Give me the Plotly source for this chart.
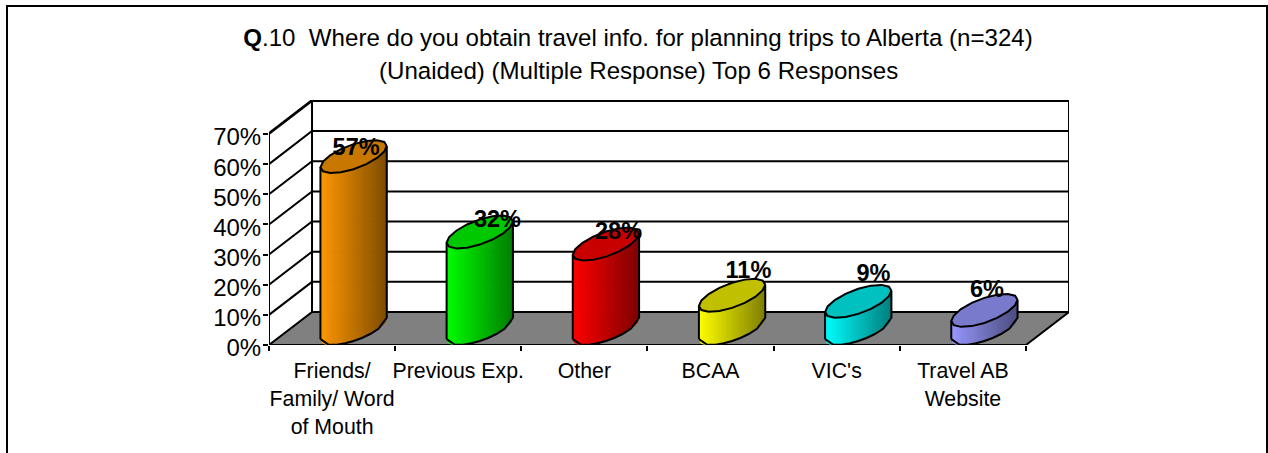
import numpy as np
import plotly.graph_objects as go

categories = ["Friends/<br>Family/ Word<br>of Mouth", "Previous Exp.", "Other", "BCAA", "VIC's", "Travel AB<br>Website"]
values = [57, 32, 28, 11, 9, 6]
value_labels = ["57%", "32%", "28%", "11%", "9%", "6%"]
y_ticks = [0, 10, 20, 30, 40, 50, 60, 70]
y_tick_labels = ["0%", "10%", "20%", "30%", "40%", "50%", "60%", "70%"]
bright = [(255, 153, 0), (0, 255, 0), (255, 0, 0), (255, 255, 0), (0, 255, 255), (153, 153, 255)]
dark = [(128, 77, 0), (0, 128, 0), (128, 0, 0), (128, 128, 0), (0, 128, 128), (77, 77, 128)]
top_col = [(200, 120, 0), (0, 200, 0), (200, 0, 0), (192, 192, 0), (0, 192, 192), (122, 122, 204)]
# data-label nudges relative to bar top centre (axis units)
label_dx = [0.02, 0.14, 0.10, 0.13, 0.12, 0.02]
label_dy = [2.5, 3.5, 3.5, 7.6, 8.6, 6.4]

DX, DY = 0.341, 10.95      # oblique depth offset, in axis units
YTOP = 81.26               # top edge of the back wall
HALF_W = 0.2
N_CAT = len(categories)
LW = 2
fig = go.Figure()


def line(xs, ys, w=LW):
    fig.add_trace(go.Scatter(x=xs, y=ys, mode="lines", line=dict(color="black", width=w),
                             hoverinfo="skip", showlegend=False, cliponaxis=False))


def poly(xs, ys, col, lw=0):
    fig.add_trace(go.Scatter(x=xs, y=ys, mode="lines", fill="toself", fillcolor=col,
                             line=dict(color=col, width=lw), hoverinfo="skip",
                             showlegend=False, cliponaxis=False))


# floor
poly([0, N_CAT, N_CAT + DX, DX, 0], [0, 0, DY, DY, 0], "rgb(128,128,128)")
# walls + gridlines
gx, gy = [], []
for t in y_ticks[1:]:
    gx += [0, DX, N_CAT + DX, None]
    gy += [t, t + DY, t + DY, None]
line(gx, gy)
line([0, 0, DX, DX, N_CAT + DX, N_CAT + DX, DX], [YTOP - DY, 0, DY, YTOP, YTOP, DY, DY])
line([0, DX], [YTOP - DY, YTOP])
line([0, N_CAT, N_CAT + DX], [0, 0, DY])

# cylinders
t0 = np.arctan2(DX / 2, HALF_W)


def ell(cx, cy, t):
    return cx + HALF_W * np.cos(t) + DX / 2 * np.sin(t), cy + DY / 2 * np.sin(t)


for i, v in enumerate(values):
    cx, base = i + 0.5 + DX / 2, DY / 2
    b, d = np.array(bright[i]), np.array(dark[i])
    phi = np.arccos(-np.linspace(-1, 1, 33)) + t0 + np.pi
    for k in range(32):
        f = (k + 0.5) / 32
        c = b + (d - b) * f
        col = "rgb(%d,%d,%d)" % tuple(c)
        xa, ya = ell(cx, base, phi[k:k + 2])
        poly(list(xa) + list(xa[::-1]) + [xa[0]],
             list(ya) + list(ya[::-1] + v) + [ya[0]], col, 1)
    ta = phi[::4]
    xb, yb = ell(cx, base, ta)
    # top ellipse
    tt = np.linspace(t0, t0 + 2 * np.pi, 17)
    xt, yt = ell(cx, base + v, tt)
    poly(list(xt), list(yt), "rgb(%d,%d,%d)" % top_col[i])
    line(list(xb) + [xb[-1]], list(yb) + [yb[-1] + v])
    line([xb[0], xb[0]], [yb[0], yb[0] + v])
    line(list(xt), list(yt))

# value labels
fig.add_trace(go.Scatter(
    x=[i + 0.5 + DX / 2 + label_dx[i] for i in range(N_CAT)],
    y=[DY / 2 + values[i] + label_dy[i] for i in range(N_CAT)],
    mode="text", text=value_labels, textposition="middle center",
    textfont=dict(family="Liberation Sans", size=23.5, color="black"),
    texttemplate="<b>%{text}</b>", hoverinfo="skip", showlegend=False, cliponaxis=False))

font = dict(family="Liberation Sans", size=21, color="black")
fig.update_layout(
    width=1268, height=453, autosize=False,
    margin=dict(l=269, r=199, t=100, b=108),
    paper_bgcolor="white", plot_bgcolor="white", font=font, showlegend=False,
    xaxis=dict(range=[0, N_CAT + DX], showgrid=False, zeroline=False, showline=False,
               tickmode="array", tickvals=[i + 0.5 for i in range(N_CAT)], ticktext=categories,
               ticks="", ticklen=0, tickangle=0, ticklabelstandoff=11,
               tickfont=dict(family="Liberation Sans", size=21.3),
               minor=dict(tickmode="array", tickvals=list(range(N_CAT + 1)), ticks="outside",
                          ticklen=5, tickwidth=2, tickcolor="black", showgrid=False)),
    yaxis=dict(range=[0, YTOP], showgrid=False, zeroline=False, showline=False,
               tickmode="array", tickvals=y_ticks, ticktext=y_tick_labels,
               ticks="outside", ticklen=5, tickwidth=2, tickcolor="black",
               ticklabelstandoff=-3, ticklabelshift=3,
               tickfont=dict(family="Liberation Sans", size=24)),
    title=dict(text="<b>Q</b>.10  Where do you obtain travel info. for planning trips to Alberta (n=324)",
               x=638 / 1268, xanchor="center", y=1 - 38 / 453, yanchor="middle",
               font=dict(family="Liberation Sans", size=24.1, color="black")),
    annotations=[dict(text="(Unaided) (Multiple Response) Top 6 Responses", xref="paper", yref="paper",
                      x=(638 - 269) / 800, y=1 + 30 / 245, xanchor="center", yanchor="middle",
                      showarrow=False, font=dict(family="Liberation Sans", size=24.1, color="black"))],
    shapes=[dict(type="rect", xref="paper", yref="paper", layer="below",
                 x0=-262 / 800, x1=(1267 - 269) / 800, y0=-130 / 245, y1=(345 - 6) / 245,
                 line=dict(color="black", width=2), fillcolor="white")],
)
fig.write_html("out.html", config=dict(displayModeBar=False),
               post_script="document.body.style.margin='0';")
